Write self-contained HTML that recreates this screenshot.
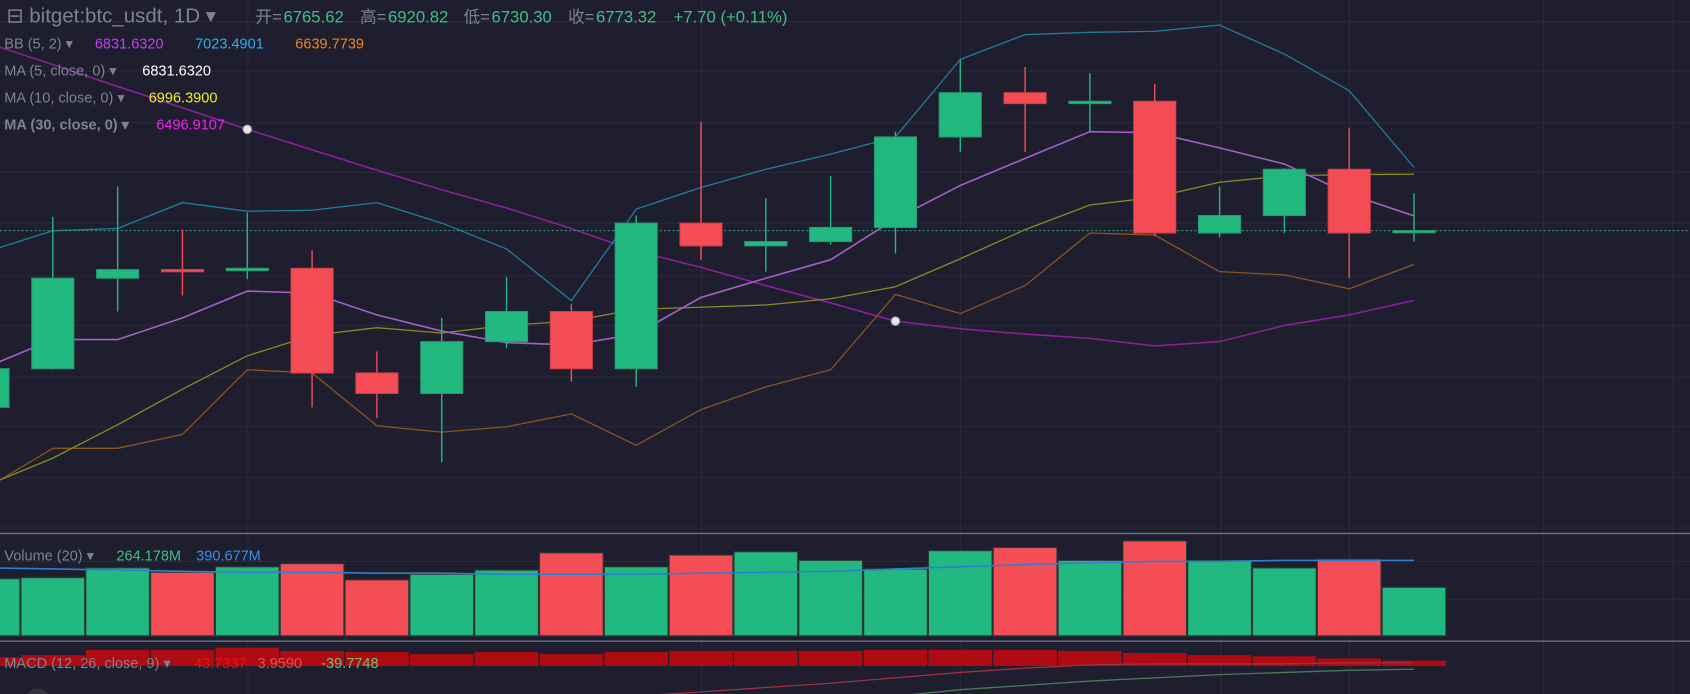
<!DOCTYPE html>
<html><head><meta charset="utf-8">
<style>
html,body{margin:0;padding:0;background:#1e1e2f;overflow:hidden}
svg{display:block}
text{font-family:"Liberation Sans","Noto Sans CJK SC",sans-serif}
</style></head>
<body>
<svg id="chart" width="1690" height="694" viewBox="0 0 1568 644" preserveAspectRatio="none" xmlns="http://www.w3.org/2000/svg">
<rect x="0" y="0" width="1568" height="644" fill="#1e1e2f"/>
<g id="grid"></g>
<g id="series"></g>
<line x1="0" y1="495" x2="1568" y2="495" stroke="#6b7284" stroke-width="1.2"/>
<line x1="0" y1="595" x2="1568" y2="595" stroke="#6b7284" stroke-width="1.2"/>
<g font-size="15.5">
<text x="6" y="21" fill="#7d8294" font-size="19">⊟ bitget:btc_usdt, 1D ▾</text>
<text x="237" y="21" fill="#7d8294">开=</text>
<text x="263" y="21" fill="#3fbf86">6765.62</text>
<text x="334" y="21" fill="#7d8294">高=</text>
<text x="360" y="21" fill="#3fbf86">6920.82</text>
<text x="430" y="21" fill="#7d8294">低=</text>
<text x="456" y="21" fill="#3fbf86">6730.30</text>
<text x="527" y="21" fill="#7d8294">收=</text>
<text x="553" y="21" fill="#3fbf86">6773.32</text>
<text x="625" y="21" fill="#3fbf86">+7.70 (+0.11%)</text>
</g>
<g font-size="13.5">
<text x="4" y="45" fill="#7d8294">BB (5, 2) ▾</text>
<text x="88" y="45" fill="#c040f0">6831.6320</text>
<text x="181" y="45" fill="#2ab0f0">7023.4901</text>
<text x="274" y="45" fill="#f0841c">6639.7739</text>
<text x="4" y="70" fill="#7d8294">MA (5, close, 0) ▾</text>
<text x="132" y="70" fill="#ffffff">6831.6320</text>
<text x="4" y="95" fill="#7d8294">MA (10, close, 0) ▾</text>
<text x="138" y="95" fill="#f0f020">6996.3900</text>
<text x="4" y="120" fill="#7d8294" font-weight="bold">MA (30, close, 0) ▾</text>
<text x="145" y="120" fill="#f020f0">6496.9107</text>
<text x="4" y="520" fill="#7d8294">Volume (20) ▾</text>
<text x="108" y="520" fill="#3fbf86">264.178M</text>
<text x="182" y="520" fill="#3a8ee6">390.677M</text>
<text x="4" y="620" fill="#7d8294">MACD (12, 26, close, 9) ▾</text>
<text x="180" y="620" fill="#ee1111">43.7337</text>
<text x="239" y="620" fill="#e05050">3.9590</text>
<text x="298" y="620" fill="#6ec070">-39.7748</text>
</g>
<circle cx="35" cy="652" r="13" fill="#33333f"/>
</svg>
<script>
// candles index -1..21
const opens  = [6074,6227,6585,6619,6615,6624,6210,6129,6334,6453,6227,6803,6713,6730,6786,7144,7319,7276,7285,6764,6833,7016,6765.62];
const highs  = [6278,6828,6948,6777,6845,6696,6295,6428,6590,6483,6833,7204,6901,6990,7165,7451,7421,7396,7353,6948,7020,7178,6920.82];
const lows   = [6044,6223,6453,6517,6581,6074,6031,5856,6308,6176,6155,6658,6611,6718,6683,7084,7084,7165,6752,6747,6764,6585,6730.30];
const closes = [6227,6585,6619,6611,6624,6210,6129,6334,6453,6227,6803,6713,6730,6786,7144,7319,7276,7285,6764,6833,7016,6764,6773.32];
const bbUpper = [6692,6773,6782,6884,6850,6854,6884,6803,6701,6496,6858,6944,7016,7076,7144,7451,7549,7558,7562,7587,7472,7327,7023.49];
const bbMid   = [6236,6342,6342,6428,6534,6526,6440,6376,6330,6321,6364,6509,6585,6658,6820,6952,7059,7165,7161,7101,7037,6918,6831.63];
const bbLower = [5758,5912,5912,5967,6223,6210,6001,5976,5997,6048,5924,6065,6155,6223,6521,6445,6556,6764,6756,6611,6598,6543,6639.77];
const ma10    = [5767,5873,6005,6146,6278,6359,6389,6368,6398,6415,6462,6470,6479,6504,6551,6662,6777,6875,6905,6965,6990,6995,6996.39];
const ma30    = [7515,7430,7344,7259,7174,7093,7012,6935,6863,6782,6692,6628,6556,6487,6415,6385,6364,6347,6317,6334,6398,6440,6496.91];
const volumes = [311,317,370,346,376,393,305,335,358,452,376,440,458,411,364,464,481,411,517,411,370,417,264.178];
const volMA   = [370,364,358,352,346,346,341,341,335,335,335,341,346,352,364,376,388,399,405,405,411,411,411];
const macdHist = [8,10,15,15,17,14,13,11,13,11,13,14,14,14,15,15,15,14,12,10,9,7,5];
const macdLine = [null,null,null,null,null,null,null,null,null,null,-28,-24,-20,-16,-11,-6,-2,1,2,2,2,3,3];
const signalLine = [null,null,null,null,null,null,null,null,null,null,null,null,null,null,-28,-22,-18,-14,-11,-8,-6,-4,-3];
const lastClose = 6773.32;

const NS="http://www.w3.org/2000/svg";
const X=i=>49+60.14*(i-1);
const Y=p=>214-(p-lastClose)*0.2345;
const VY=v=>590-v*0.1703;
const MY=v=>618-v;
function mk(tag,attrs,parent){const e=document.createElementNS(NS,tag);for(const k in attrs)e.setAttribute(k,attrs[k]);parent.appendChild(e);return e;}
const grid=document.getElementById('grid'), S=document.getElementById('series');
[20,66,114,160,207,256,302,350,396,443,490,521,556].forEach(y=>{
  const l=mk('line',{x1:0,x2:1568,y1:y,y2:y,stroke:'#2a2a3b','stroke-width':1},grid);
  
  
});
[230,651,891,1133,1252,1432,1552].forEach(x=>{
  const l=mk('line',{x1:x,x2:x,y1:0,y2:644,stroke:'#2a2a3b','stroke-width':1},grid);
  
  
});
const UP='#22b980',DN='#f54d55';
volumes.forEach((v,i)=>{
  const up=closes[i]>=opens[i];
  const r=mk('rect',{x:X(i)-29.5,y:VY(v),width:59,height:590-VY(v),fill:up?UP:DN,stroke:'#2b3b3a','stroke-width':1},S);
  
  
});
function line(arr,fn,color,w,name){
  const pts=[];arr.forEach((v,i)=>{if(v!==null)pts.push(X(i).toFixed(1)+','+fn(v).toFixed(1));});
  const p=mk('polyline',{points:pts.join(' '),fill:'none',stroke:color,'stroke-width':w},S);
  
  
}
line(volMA,VY,'#2f7fd0',1.5,'volume-ma-line');
macdHist.forEach((v,i)=>{
  const r=mk('rect',{x:X(i)-29.5,y:MY(v),width:59,height:v,fill:'#b00b12'},S);
  
  
});
line(macdLine,MY,'#a03040',1.2,'macd-line');
line(signalLine,MY,'#4a7a5a',1.2,'signal-line');
line(ma30,Y,'#8a1f9a',1.5,'ma30-line');
line(bbUpper,Y,'#1f7ea0',1.2,'bb-upper-line');
line(bbLower,Y,'#8a5420',1.2,'bb-lower-line');
line(ma10,Y,'#8c8a22',1.2,'ma10-line');
line(bbMid,Y,'#a45fc8',1.5,'bb-mid-line');
const lp=mk('line',{x1:0,x2:1568,y1:Y(lastClose),y2:Y(lastClose),stroke:'#2f9c78','stroke-width':1,'stroke-dasharray':'2,2'},S);


opens.forEach((o,i)=>{
  const c=closes[i],up=c>=o,col=up?UP:DN,x=X(i);
  const w=mk('line',{x1:x,x2:x,y1:Y(highs[i]),y2:Y(lows[i]),stroke:col,'stroke-width':1.3},S);
  
  
  const top=Y(Math.max(o,c)),h=Math.max(2,Math.abs(Y(o)-Y(c)));
  const b=mk('rect',{x:x-19.5,y:top,width:39,height:h,fill:col,stroke:up?'#2a9a70':'#d84048','stroke-width':1},S);
  
  
});
[[4,ma30[4]],[14,ma30[14]]].forEach(([i,v])=>{
  const d=mk('circle',{cx:X(i),cy:Y(v),r:4,fill:'#e8e8e8',stroke:'#999','stroke-width':1},S);
  
  
});
</script>
</body></html>
